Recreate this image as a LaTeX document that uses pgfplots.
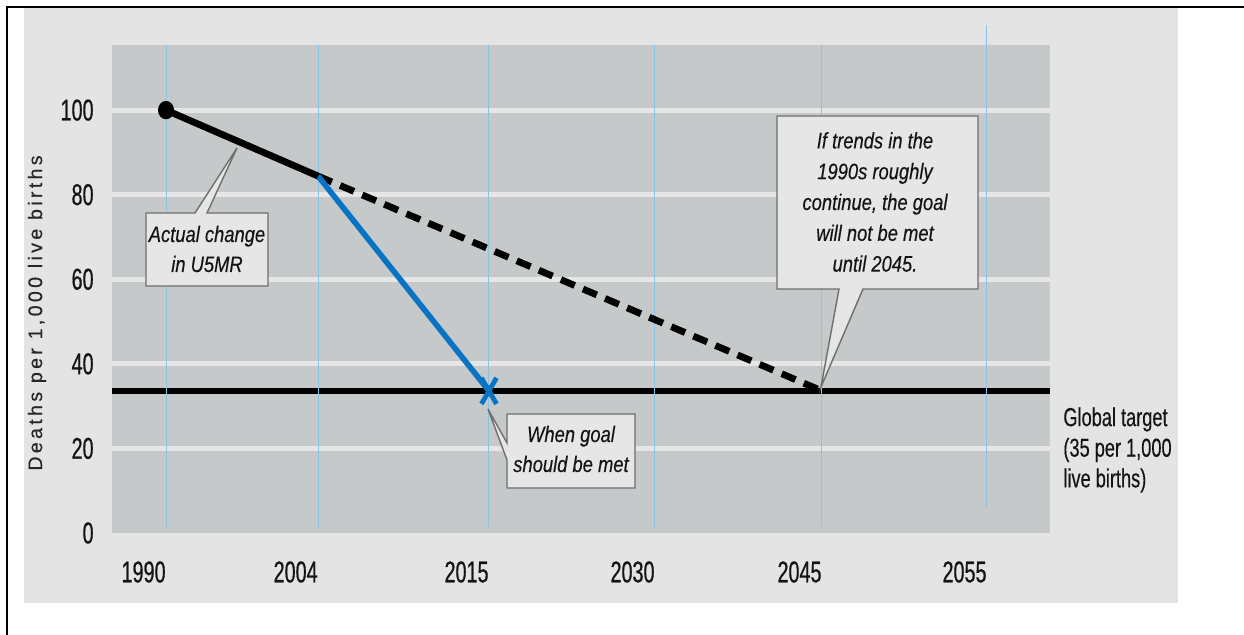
\documentclass[border=0pt]{standalone}
\usepackage{fontspec}
\setmainfont{Liberation Sans}
\newfontfamily\tickfont[FakeStretch=0.66, FakeBold=0.6]{Liberation Sans}
\newfontfamily\notefont[FakeStretch=0.82, FakeBold=0.3]{Liberation Sans}
\newfontfamily\tgtfont[FakeStretch=0.7, FakeBold=0.3]{Liberation Sans}
\newfontfamily\labfont[LetterSpace=17, FakeBold=0.3]{Liberation Sans}
\usepackage{pgfplots}
\pgfplotsset{compat=1.18}

\definecolor{outergray}{HTML}{E4E4E4}
\definecolor{plotgray}{HTML}{C6C9CA}
\definecolor{gridgray}{HTML}{E6E6E6}
\definecolor{vblue}{HTML}{8CC3E3}
\definecolor{lineblue}{HTML}{0A74C4}
\definecolor{boxedge}{HTML}{6E6E6E}
\definecolor{txt}{HTML}{141414}

% pixel of the reference -> picture coordinates (0.5pt per pixel, axis corner at 112,533)
\newcommand{\px}[2]{({(#1-112)*0.5pt},{(533-#2)*0.5pt})}

\begin{document}
\begin{tikzpicture}
\useasboundingbox[fill=white] \px{0}{0} rectangle \px{1244}{635};
\fill[outergray] \px{24}{8} rectangle \px{1178}{603};
\draw[black, line width=0.8pt] \px{7}{635} -- \px{7}{7} -- \px{1244}{7};

\begin{axis}[
  scale only axis,
  width=469pt, height=244pt,
  xmin=-0.329, xmax=5.384,
  ymin=0, ymax=115.4,
  axis line style={draw=none},
  tick style={draw=none},
  axis background/.style={fill=plotgray},
  ytick={20,40,60,80,100},
  yticklabels={20,40,60,80,100},
  extra y ticks={0},
  extra y tick labels={0},
  extra y tick style={grid=none},
  ymajorgrids,
  major grid style={gridgray, line width=2.5pt},
  xtick={0,0.926,1.967,2.978,3.995,5},
  xticklabels={1990,2004,2015,2030,2045,2055},
  ticklabel style={font=\tickfont\fontsize{15}{15}\selectfont, text=txt, inner sep=0pt},
  yticklabel style={anchor=east, xshift=-9pt},
  xticklabel style={anchor=east, yshift=-19.5pt},
  clip=false,
]
% global target
\addplot[black, line width=3pt] coordinates {(-0.329,33.6) (5.384,33.6)};
% thin vertical year lines
\draw[vblue, line width=0.5pt] (axis cs:0,115.4) -- (axis cs:0,1.5);
\draw[vblue, line width=0.5pt] (axis cs:0.926,115.4) -- (axis cs:0.926,1.5);
\draw[vblue, line width=0.5pt] (axis cs:1.967,115.4) -- (axis cs:1.967,1.5);
\draw[vblue, line width=0.5pt] (axis cs:2.978,115.4) -- (axis cs:2.978,1.5);
\draw[vblue, line width=0.5pt] (axis cs:3.995,115.4) -- (axis cs:3.995,1.5);
\draw[vblue, line width=0.5pt] (axis cs:5,120.1) -- (axis cs:5,6.1);
% trend continued
\addplot[black, line width=3.4pt, dash pattern=on 7.5pt off 4.5pt] coordinates {(0.926,84.4) (3.995,33.6)};
% required path
\addplot[lineblue, line width=2.8pt] coordinates {(0.926,84.4) (1.967,33.6)};
\addplot[only marks, mark=x, mark size=9.2pt, lineblue,
  mark options={xscale=0.58, line width=2.4pt}] coordinates {(1.967,33.6)};
% actual change
\addplot[black, line width=3.4pt] coordinates {(0,100) (0.926,84.4)};
\addplot[only marks, mark=*, mark size=3.8pt, black,
  mark options={yscale=1.15}] coordinates {(0,100)};
\end{axis}

% callouts
\filldraw[fill=gridgray, draw=boxedge, line width=0.7pt]
  \px{146}{213} -- \px{195}{213} -- \px{237}{148} -- \px{207}{213} -- \px{268}{213}
  -- \px{268}{286} -- \px{146}{286} -- cycle;
\node[txt, align=center, font=\notefont\itshape\fontsize{11.2}{15}\selectfont]
  at \px{207}{249} {Actual change\\in U5MR};

\filldraw[fill=gridgray, draw=boxedge, line width=0.7pt]
  \px{507}{414} -- \px{635}{414} -- \px{635}{488} -- \px{507}{488} -- \px{507}{460}
  -- \px{488}{409} -- \px{507}{443} -- cycle;
\node[txt, align=center, font=\notefont\itshape\fontsize{11.2}{15}\selectfont]
  at \px{571}{449} {When goal\\should be met};

\filldraw[fill=gridgray, draw=boxedge, line width=0.7pt]
  \px{777}{116} -- \px{978}{116} -- \px{978}{289} -- \px{863}{289} -- \px{821}{387}
  -- \px{839}{289} -- \px{777}{289} -- cycle;
\node[txt, align=center, font=\notefont\itshape\fontsize{11.2}{15.4}\selectfont]
  at \px{875}{202} {If trends in the\\1990s roughly\\continue, the goal\\will not be met\\until 2045.};

\node[txt, align=left, anchor=west, inner sep=0pt, font=\tgtfont\fontsize{13}{15.3}\selectfont]
  at \px{1063}{450} {Global target\\(35 per 1,000\\live births)};

\node[text=black!85, rotate=90, inner sep=0pt, font=\labfont\fontsize{9.8}{10}\selectfont]
  at \px{37}{313} {Deaths per 1,000 live births};
\end{tikzpicture}
\end{document}
